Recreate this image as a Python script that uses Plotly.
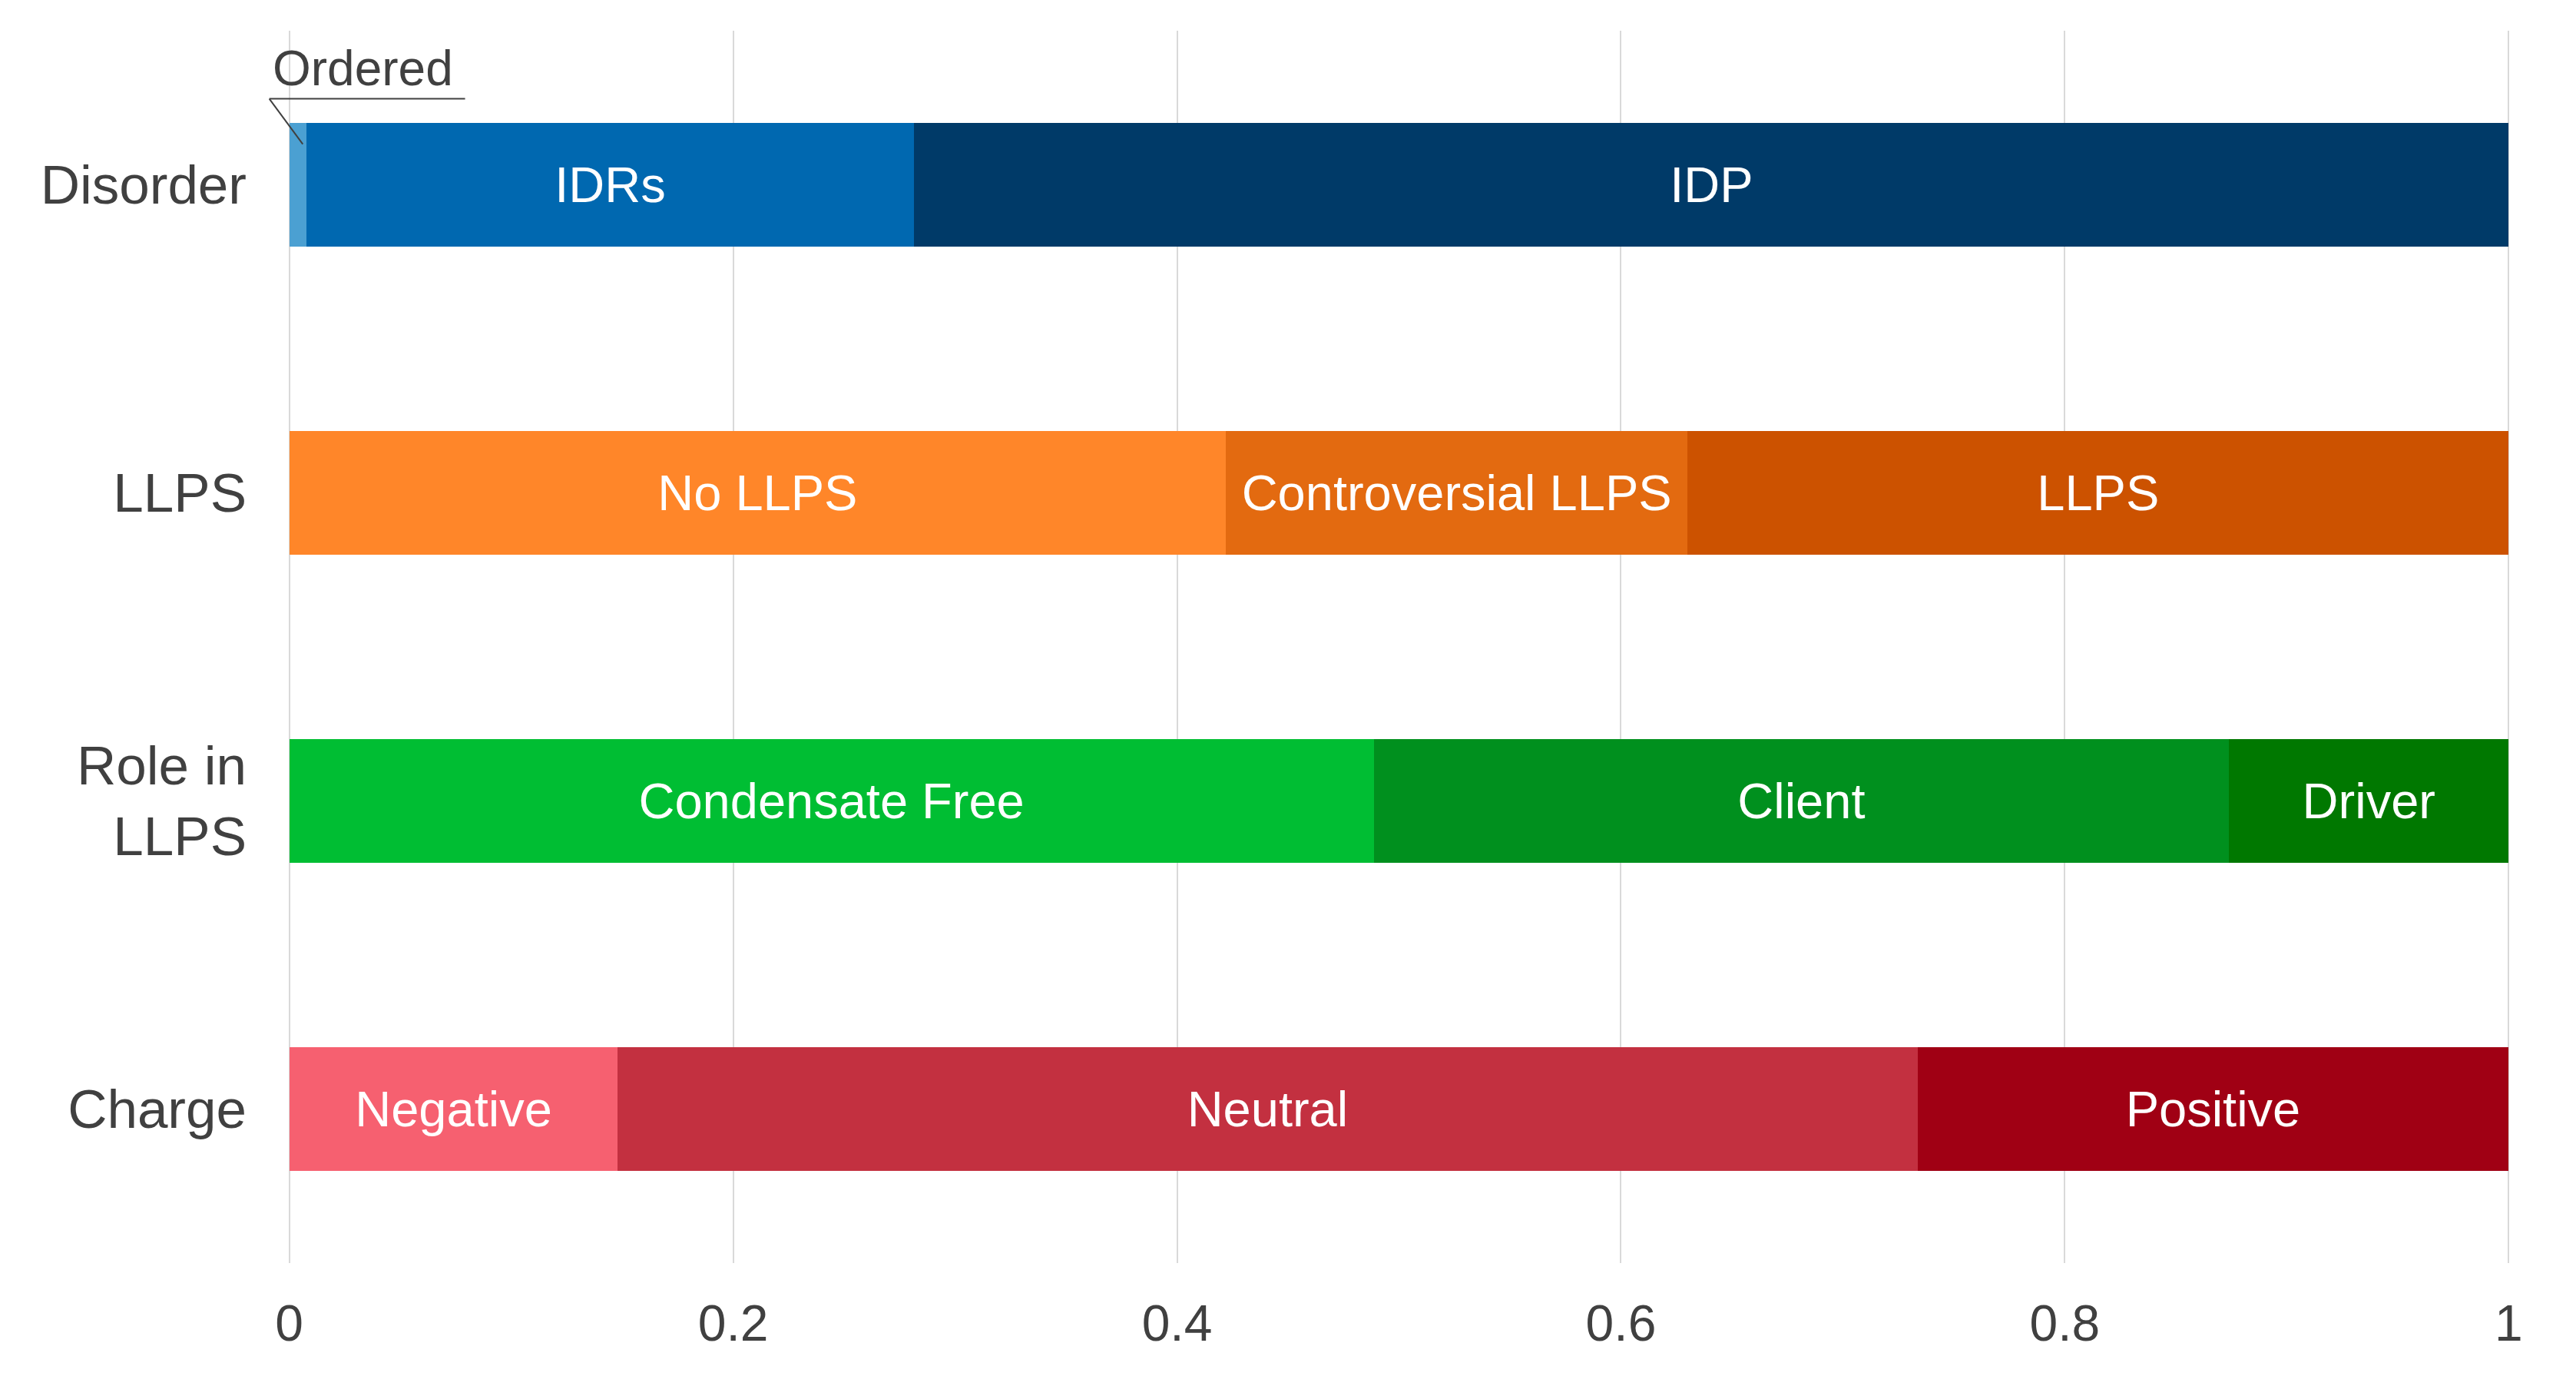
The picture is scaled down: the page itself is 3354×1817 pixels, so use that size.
import plotly.graph_objects as go

categories = ["Disorder", "LLPS", "Role in<br>LLPS", "Charge"]

seg1_values = [0.0076, 0.422, 0.4886, 0.148]
seg2_values = [0.274, 0.208, 0.3854, 0.5856]
seg3_values = [0.7184, 0.370, 0.126, 0.2664]

seg1_labels = ["", "No LLPS", "Condensate Free", "Negative"]
seg2_labels = ["IDRs", "Controversial LLPS", "Client", "Neutral"]
seg3_labels = ["IDP", "LLPS", "Driver", "Positive"]

seg1_colors = ["#4BA0D2", "#FF8629", "#00BE33", "#F66070"]
seg2_colors = ["#0068B0", "#E36A10", "#00901E", "#C33040"]
seg3_colors = ["#003A68", "#CC5200", "#007800", "#A00014"]

ordered_label = "Ordered"
ordered_value = seg1_values[0]

FONT = '"Liberation Sans", Arial, sans-serif'
TEXT_COL = "#404040"

fig = go.Figure()
for vals, labs, cols in [(seg1_values, seg1_labels, seg1_colors),
                         (seg2_values, seg2_labels, seg2_colors),
                         (seg3_values, seg3_labels, seg3_colors)]:
    fig.add_trace(go.Bar(
        y=categories, x=vals, orientation="h",
        marker=dict(color=cols, line=dict(width=0)),
        text=labs, textposition="inside", insidetextanchor="middle",
        textangle=0, constraintext="none",
        textfont=dict(family=FONT, size=65, color="white"),
        width=0.4, showlegend=False, hoverinfo="x+y",
    ))

# Leader line and underline for the "Ordered" label
ux0 = -0.009
ux1 = 0.0792
uy = -0.279
fig.add_shape(type="line", xref="x", yref="y",
              x0=ux0, y0=uy, x1=ux1, y1=uy,
              line=dict(color="#404040", width=2))
fig.add_shape(type="line", xref="x", yref="y",
              x0=ux0, y0=uy, x1=ordered_value * 0.8, y1=-0.132,
              line=dict(color="#404040", width=2))
fig.add_annotation(text=ordered_label, xref="x", yref="y",
                   x=(ux0 + ux1) / 2 - 0.002, y=uy, yanchor="bottom",
                   xanchor="center", showarrow=False, yshift=2,
                   font=dict(family=FONT, size=64, color=TEXT_COL))

fig.update_layout(
    width=3354, height=1817,
    barmode="stack",
    plot_bgcolor="white", paper_bgcolor="white",
    margin=dict(l=342, r=79, t=40, b=173),
    font=dict(family=FONT, color=TEXT_COL),
    bargap=0.6,
)
fig.update_xaxes(
    range=[-0.012, 1.003],
    tickvals=[0, 0.2, 0.4, 0.6, 0.8, 1],
    ticktext=["0", "0.2", "0.4", "0.6", "0.8", "1"],
    showgrid=True, gridcolor="#D9D9D9", gridwidth=2,
    zeroline=False, showline=False, ticks="",
    tickfont=dict(family=FONT, size=66, color=TEXT_COL),
    ticklabelstandoff=34,
)
fig.update_yaxes(
    categoryorder="array", categoryarray=categories,
    range=[3.5, -0.5],
    showgrid=False, zeroline=False, showline=False, ticks="",
    tickfont=dict(family=FONT, size=71, color=TEXT_COL),
    ticklabelstandoff=20,
)

fig.write_html("out.html", config={"displayModeBar": False},
               post_script="document.body.style.margin='0px';")
